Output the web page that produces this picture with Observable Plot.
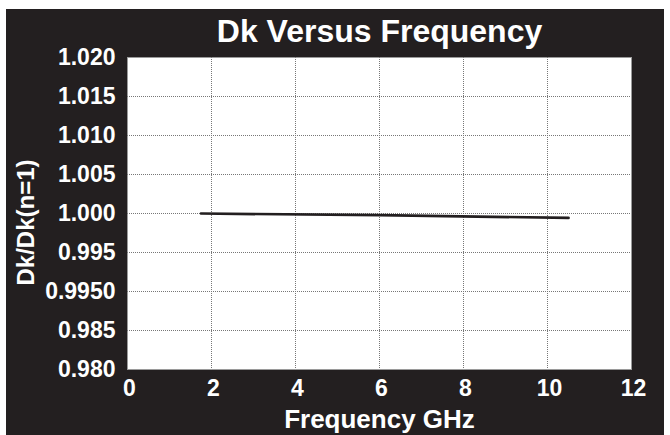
<!DOCTYPE html>
<html>
<head>
<meta charset="utf-8">
<script src="https://cdn.jsdelivr.net/npm/d3@7"></script>
<script src="https://cdn.jsdelivr.net/npm/@observablehq/plot@0.6"></script>
<style>
  html, body { margin: 0; padding: 0; background: #ffffff; }
  #chart { position: absolute; left: 6px; top: 9px; }
  #chart svg { display: block; }
</style>
</head>
<body>
<div id="chart"></div>
<script>
// ---- data ----
const freqGHz = [1.75, 6.0, 10.5];
const dkRatio = [1.0000, 0.99978, 0.99944];

const xTicks = [0, 2, 4, 6, 8, 10, 12];
const xTickLabels = ["0", "2", "4", "6", "8", "10", "12"];
const yTicks = [0.980, 0.985, 0.990, 0.995, 1.000, 1.005, 1.010, 1.015, 1.020];
const yTickLabels = ["0.980", "0.985", "0.9950", "0.995", "1.000", "1.005", "1.010", "1.015", "1.020"];

const titleText = "Dk Versus Frequency";
const xLabelText = "Frequency GHz";
const yLabelText = "Dk/Dk(n=1)";

const points = freqGHz.map((f, i) => ({f, v: dkRatio[i]}));
const BG = "#231f20";

const chart = Plot.plot({
  width: 658,
  height: 426,
  marginLeft: 121,
  marginRight: 33,
  marginTop: 48,
  marginBottom: 66,
  style: {
    background: BG,
    color: "white",
    fontFamily: "'Liberation Sans', Arial, sans-serif",
    fontWeight: "bold",
    overflow: "visible"
  },
  x: {domain: [0, 12]},
  y: {domain: [0.980, 1.020]},
  marks: [
    Plot.frame({fill: "white", stroke: "#9a9a9a", strokeWidth: 1}),
    Plot.gridX(xTicks.slice(1, -1), {stroke: "#777", strokeOpacity: 1, strokeDasharray: "1,1"}),
    Plot.gridY(yTicks.slice(1, -1), {stroke: "#777", strokeOpacity: 1, strokeDasharray: "1,1"}),
    Plot.line(points, {x: "f", y: "v", stroke: BG, strokeWidth: 2.7}),
    Plot.axisX(xTicks, {
      tickSize: 0, tickPadding: 10, fontSize: 23, fontWeight: "bold", fill: "white", dx: 2,
      tickFormat: (d) => xTickLabels[xTicks.indexOf(d)], label: null
    }),
    Plot.axisY(yTicks, {
      tickSize: 0, tickPadding: 12, fontSize: 23, fontWeight: "bold", fill: "white",
      tickFormat: (d) => yTickLabels[yTicks.findIndex(t => Math.abs(t - d) < 1e-9)], label: null
    }),
    Plot.text([titleText], {
      text: d => d, frameAnchor: "top", lineAnchor: "middle", dy: -26,
      fontSize: 32, fontWeight: "bold", fill: "white"
    }),
    Plot.text([xLabelText], {
      text: d => d, frameAnchor: "bottom", lineAnchor: "middle", dy: 50,
      fontSize: 26, fontWeight: "bold", fill: "white"
    }),
    Plot.text([yLabelText], {
      text: d => d, frameAnchor: "left", textAnchor: "middle", lineAnchor: "middle",
      rotate: -90, dx: -101, dy: 9,
      fontSize: 24, fontWeight: "bold", fill: "white"
    })
  ]
});
document.getElementById("chart").appendChild(chart);
</script>
</body>
</html>
